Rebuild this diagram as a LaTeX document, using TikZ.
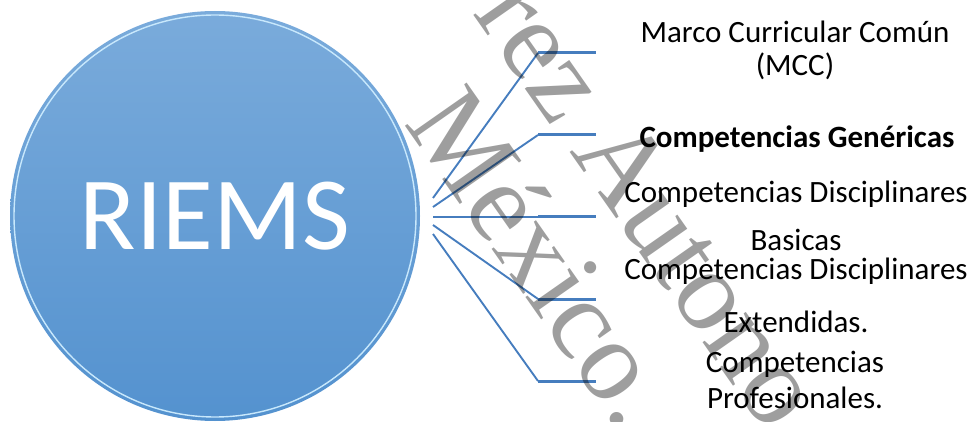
\documentclass[tikz,border=0pt]{standalone}
\usepackage{fontspec}
\setmainfont{Carlito}
\newfontfamily\marcafont{Liberation Serif}
\usetikzlibrary{calc}
\definecolor{azulrama}{RGB}{70,125,190}
\definecolor{azularriba}{RGB}{122,171,219}
\definecolor{azulabajo}{RGB}{84,146,207}
\definecolor{brillo}{RGB}{200,232,252}
\tikzset{
  rama/.style={draw=azulrama,line width=1.9pt},
  tope/.style={draw=azulrama,line width=3pt},
  etiqueta/.style={anchor=base,align=center,inner sep=0pt,font=\fontsize{31}{33}\selectfont},
  marca/.style={anchor=base west,rotate=-55,inner sep=0pt,text=black,text opacity=0.38,font=\marcafont\fontsize{115}{115}\selectfont}
}
\begin{document}
\begin{tikzpicture}[x=1pt,y=-1pt]
  \useasboundingbox (0,0) rectangle (977,422);
  \node[circle,minimum size=410pt,inner sep=0pt,top color=azularriba,bottom color=azulabajo,
        text=white,font=\fontsize{104}{110}\selectfont] (riems) at (215,216) {RIEMS};
  \draw[brillo,line width=1.4pt] (riems.center) circle (201pt);
  \foreach \i/\ys/\yb in {1/198/53,2/207/135,3/217/217,4/225/299,5/234/381}{
    \coordinate (a\i) at (433,\ys);
    \coordinate (b\i) at (538,\yb);
    \coordinate (c\i) at (596,\yb);
    \draw[rama] (a\i) -- (b\i);
    \draw[tope] (b\i) -- (c\i);
  }
  \node[etiqueta] (mcc) at (795,76) {Marco Curricular Común\\(MCC)};
  \node[etiqueta,font=\bfseries\fontsize{31}{33}\selectfont] (genericas) at (797,148) {Competencias Genéricas};
  \node[etiqueta] (basicas) at (796,251) {Competencias Disciplinares\\[15pt]Basicas};
  \node[etiqueta] (extendidas) at (796,332) {Competencias Disciplinares\\[20pt]Extendidas.};
  \node[etiqueta] (profesionales) at (795,408) {Competencias\\[3pt]Profesionales.};
  \node[marca] (linea1) at (472,13) {rez Autono};
  \node[marca] (linea2) at (403,123) {México.};
\end{tikzpicture}
\end{document}
